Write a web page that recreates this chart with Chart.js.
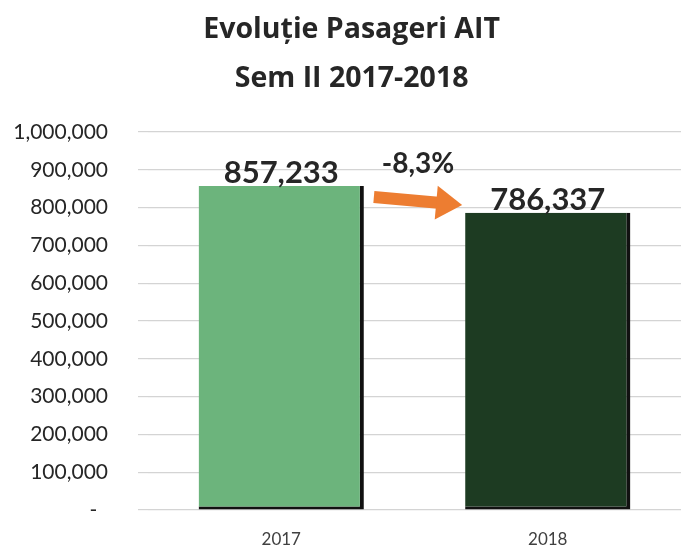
<!DOCTYPE html>
<html>
<head>
<meta charset="utf-8">
<script src="https://cdn.jsdelivr.net/npm/chart.js@4/dist/chart.umd.min.js"></script>
<style>
  html, body { margin: 0; padding: 0; background: #fff; }
  #wrap { width: 681px; height: 549px; }
</style>
</head>
<body>
<div id="wrap"><canvas id="pax"></canvas></div>
<script>
// date grafic
const years = ['2017', '2018'];
const passengers = [857233, 786337];
const barColors = ['#6cb47c', '#1d3b22'];
const titleLines = ['Evoluție Pasageri AIT', 'Sem II 2017-2018'];

const fontFam = 'Lato, "Open Sans", sans-serif';

// procent variatie, format romanesc
function pctLabel() {
    const p = (passengers[1] - passengers[0]) / passengers[0] * 100;
    return p.toFixed(1).replace('.', ',') + '%';
}

// etichete valori + sageata
const extras = {
    id: 'extras',
    afterDatasetsDraw(chart) {
        const ctx = chart.ctx;
        const meta = chart.getDatasetMeta(0);
        const y = chart.scales.y;

        ctx.save();
        ctx.fillStyle = '#262626';
        ctx.font = 'bold 31px ' + fontFam;
        ctx.textAlign = 'center';
        ctx.textBaseline = 'alphabetic';
        meta.data.forEach((bar, i) => {
            ctx.fillText(passengers[i].toLocaleString('en-US'), bar.x, bar.y - 3);
        });

        // sageata portocalie
        const b1 = meta.data[0], b2 = meta.data[1];
        const x0 = b1.x + b1.width / 2 + 10;
        const x1 = b2.x - b2.width / 2 - 3;
        const y0 = y.getPixelForValue(828000);
        const y1 = y.getPixelForValue(807000);
        const ang = Math.atan2(y1 - y0, x1 - x0);
        const head = 26;
        const hx = x1 - head * Math.cos(ang), hy = y1 - head * Math.sin(ang);
        ctx.strokeStyle = '#ed7d31';
        ctx.fillStyle = '#ed7d31';
        ctx.lineWidth = 12;
        ctx.lineCap = 'butt';
        ctx.beginPath();
        ctx.moveTo(x0, y0);
        ctx.lineTo(hx + 2, hy);
        ctx.stroke();
        const w = 17;
        ctx.beginPath();
        ctx.moveTo(x1, y1);
        ctx.lineTo(hx + w * Math.sin(ang), hy - w * Math.cos(ang));
        ctx.lineTo(hx - w * Math.sin(ang), hy + w * Math.cos(ang));
        ctx.closePath();
        ctx.fill();

        ctx.fillStyle = '#262626';
        ctx.font = 'bold 28px ' + fontFam;
        ctx.textBaseline = 'middle';
        ctx.fillText(pctLabel(), 418, y.getPixelForValue(916000));
        ctx.restore();
    }
};

new Chart(document.getElementById('pax'), {
    type: 'bar',
    data: {
        labels: years,
        datasets: [{
            data: passengers,
            backgroundColor: barColors,
            borderColor: '#111',
            borderWidth: { top: 0, left: 0, right: 4, bottom: 3 },
            borderSkipped: false,
            barPercentage: 0.62,
            categoryPercentage: 1
        }]
    },
    options: {
        responsive: true,
        maintainAspectRatio: false,
        animation: false,
        layout: { padding: 0 },
        scales: {
            x: {
                grid: { display: false, drawTicks: false },
                border: { display: false },
                ticks: { color: '#404040', font: { family: fontFam, size: 17 }, padding: 19 },
                afterFit: s => { s.height = 39; }
            },
            y: {
                min: 0,
                max: 1000000,
                ticks: {
                    stepSize: 100000,
                    color: '#262626',
                    padding: 30,
                    font: { family: fontFam, size: 21 },
                    callback: v => v === 0 ? '-  ' : v.toLocaleString('en-US')
                },
                grid: { color: '#d4d4d4', lineWidth: 1.2, tickLength: 10, tickColor: '#d4d4d4' },
                border: { display: false },
                // latime fixa, fara spatiu suplimentar jos
                afterFit: s => { s.width = 148; s.paddingTop = 0; s.paddingBottom = 0; }
            }
        },
        plugins: {
            legend: { display: false },
            tooltip: { enabled: false },
            title: {
                display: true,
                text: titleLines.map(t => '   ' + t),
                color: '#262626',
                font: { family: '"Open Sans", Lato, sans-serif', size: 28.5, weight: 'bold', lineHeight: 1.72 },
                padding: { top: 5, bottom: 29 }
            }
        }
    },
    plugins: [extras]
});
</script>
</body>
</html>
